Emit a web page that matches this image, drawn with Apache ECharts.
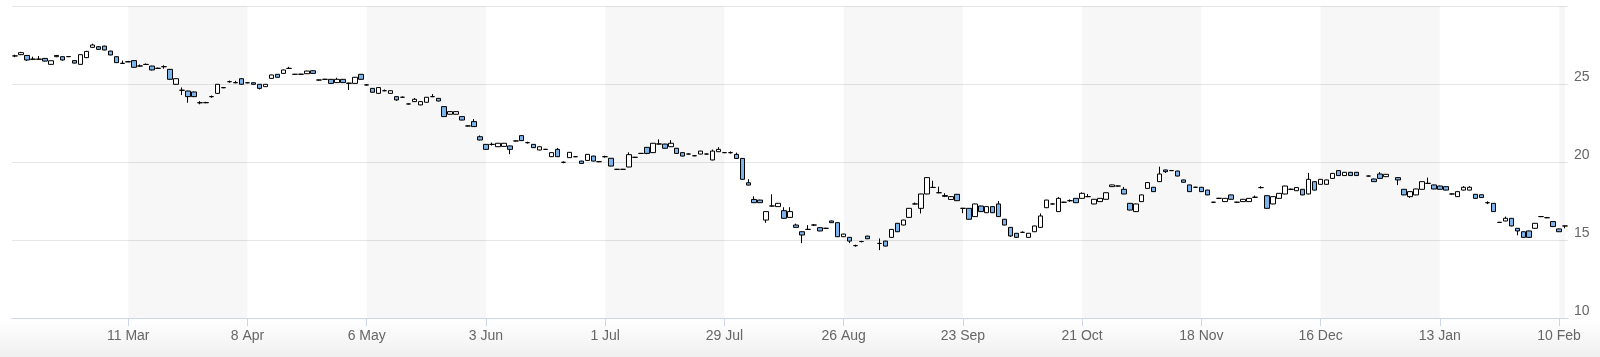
<!DOCTYPE html>
<html>
<head>
<meta charset="utf-8">
<script src="https://cdn.jsdelivr.net/npm/echarts@6/dist/echarts.min.js"></script>
<style>
html,body{margin:0;padding:0;}
#chart{width:1600px;height:357px;background:linear-gradient(to bottom,#ffffff 0px,#ffffff 318px,#f0f0f0 357px);}
</style>
</head>
<body>
<div id="chart"></div>
<script>
// Trading-day ticks and labels
const tickDates = ['2013-03-11','2013-04-08','2013-05-06','2013-06-03','2013-07-01','2013-07-29','2013-08-26','2013-09-23','2013-10-21','2013-11-18','2013-12-16','2014-01-13','2014-02-10'];
const tickLabels = ['11 Mar','8 Apr','6 May','3 Jun','1 Jul','29 Jul','26 Aug','23 Sep','21 Oct','18 Nov','16 Dec','13 Jan','10 Feb'];
const firstDay = '2013-02-12';
const lastDay = '2014-02-11';

// OHLC values (null = no trading)
const opens = [26.80,26.88,26.83,26.60,26.58,26.64,26.26,26.75,26.75,26.75,26.50,26.26,26.69,27.35,27.39,27.43,27.11,26.75,26.33,26.42,
26.50,26.15,26.26,26.15,26.00,26.11,25.94,24.98,24.60,24.55,24.49,23.80,23.80,24.19,24.40,24.76,25.15,25.08,25.34,25.08,
25.08,24.98,24.83,25.36,25.62,25.68,26.00,25.62,25.62,25.66,25.85,25.25,25.30,25.30,25.09,25.30,25.04,25.04,25.62,24.94,
24.72,24.40,24.57,24.40,24.19,24.15,23.72,23.87,23.66,23.83,24.19,24.08,23.55,23.06,23.06,22.91,22.31,22.59,21.62,21.13,
21.13,20.98,21.00,21.03,21.35,21.69,21.24,21.13,20.77,20.81,20.34,20.81,19.98,20.28,20.34,20.06,20.10,20.38,20.02,20.34,
20.24,19.53,19.53,19.68,20.30,20.55,20.94,20.60,21.15,21.15,20.98,20.88,20.60,20.51,20.40,20.51,20.51,20.13,20.66,20.60,
20.60,20.49,20.23,18.67,17.60,17.56,16.28,17.18,17.14,16.88,16.45,15.96,15.53,15.68,15.96,15.79,15.75,16.22,16.11,15.21,
15.17,14.64,14.90,15.25,null,14.78,14.93,15.17,16.07,15.96,16.45,17.31,17.03,17.95,18.37,18.03,17.85,17.60,17.93,17.03,
17.03,16.50,17.18,16.75,17.14,17.31,16.33,15.81,15.43,15.49,15.17,15.53,15.81,17.07,17.31,16.82,17.42,17.52,17.67,17.67,
17.78,17.31,17.46,17.61,18.42,18.46,18.25,17.35,16.82,17.46,18.31,18.38,18.74,19.49,19.45,19.42,18.85,18.53,18.38,18.38,
18.20,17.42,17.67,17.46,17.89,17.42,17.46,17.46,17.74,18.36,17.84,17.31,17.67,17.95,18.25,18.16,18.25,17.95,18.74,18.57,
18.57,18.95,19.45,19.13,19.34,19.34,null,19.10,18.91,19.23,19.06,null,19.00,18.25,17.78,17.89,18.25,18.63,18.53,18.46,
18.42,17.95,17.78,18.20,18.20,17.93,17.90,17.39,17.35,16.13,16.22,16.39,15.75,15.53,15.58,15.75,16.50,16.43,16.18,15.71,
15.90];
const closes = [26.80,27.01,26.54,26.58,26.60,26.47,26.49,26.83,26.54,26.76,26.34,26.88,27.09,27.50,27.22,27.18,26.86,26.37,26.32,26.43,
26.07,26.16,26.25,25.90,26.01,26.11,25.30,25.34,24.60,24.19,24.19,23.80,23.81,24.19,24.98,24.77,25.15,25.09,24.98,25.08,
24.98,24.72,24.98,25.58,25.43,25.90,26.00,25.62,25.63,25.83,25.68,25.26,25.30,25.04,25.30,25.09,25.06,25.43,25.30,24.94,
24.47,24.77,24.57,24.57,23.98,24.15,23.72,24.02,23.87,24.15,24.19,23.91,22.91,23.23,23.23,22.69,22.31,22.27,21.41,20.81,
21.13,21.20,21.20,20.81,21.35,21.37,21.24,20.92,20.98,20.81,20.60,20.34,19.98,20.62,20.34,19.91,20.49,20.06,20.02,20.34,
19.74,19.53,19.53,20.47,20.30,20.55,20.55,21.20,21.16,20.88,21.20,20.55,20.38,20.51,20.40,20.70,20.51,20.70,20.81,20.60,
20.60,20.23,18.89,18.52,17.39,17.39,16.82,17.18,17.35,16.39,16.82,15.81,15.32,15.68,15.96,15.58,15.75,16.11,15.21,15.38,
14.93,14.64,14.90,15.08,null,14.78,14.61,15.68,15.53,16.28,17.03,17.31,17.95,19.00,18.37,18.03,17.80,17.78,17.52,17.03,
16.33,17.31,16.82,17.14,16.75,16.50,15.96,15.26,15.17,15.49,15.43,15.90,16.54,17.56,17.31,17.67,17.42,17.52,17.39,17.99,
17.78,17.61,17.67,18.03,18.53,18.46,17.95,16.92,17.31,17.89,18.68,18.10,19.23,19.38,19.45,19.10,18.70,18.10,18.38,18.10,
17.89,17.42,17.67,17.67,17.61,17.42,17.61,17.67,17.74,18.36,17.03,17.78,17.99,18.46,18.25,18.36,17.89,18.89,18.20,18.89,
18.85,19.27,19.13,19.34,19.13,19.13,null,19.10,18.74,18.95,19.21,null,18.85,17.89,18.10,18.27,18.74,18.63,18.27,18.25,
18.20,17.95,18.10,18.38,18.38,17.67,17.72,17.39,16.82,16.13,16.39,15.90,15.58,15.17,15.17,16.07,16.50,16.43,15.86,15.53,
15.90];
const lows = [26.72,26.85,26.48,26.55,26.56,26.44,26.24,26.72,26.50,26.73,26.32,26.24,26.66,27.33,27.20,27.16,26.84,26.35,26.28,26.40,
26.05,26.12,26.22,25.87,25.97,25.98,25.28,24.96,24.29,23.80,24.16,23.70,23.77,24.12,24.38,24.73,25.08,25.05,24.96,25.05,
24.95,24.65,24.81,25.34,25.41,25.66,25.97,25.59,25.59,25.64,25.66,25.22,25.27,25.00,25.07,25.07,24.62,25.02,25.28,24.91,
24.45,24.38,24.54,24.38,23.92,24.10,23.69,23.85,23.64,23.81,24.16,23.89,22.89,23.04,23.04,22.67,22.28,22.25,21.39,20.79,
21.05,20.96,20.98,20.50,21.32,21.35,21.18,20.90,20.75,20.78,20.32,20.32,19.92,20.26,20.31,19.89,20.08,20.04,19.99,20.28,
19.72,19.50,19.50,19.66,20.27,20.52,20.50,20.58,21.12,20.86,20.96,20.53,20.36,20.48,20.37,20.49,20.48,20.11,20.64,20.57,
20.54,20.21,18.87,18.50,17.37,17.37,16.10,17.14,17.12,16.37,16.43,15.79,14.80,15.65,15.90,15.56,15.72,16.09,15.19,15.19,
14.80,14.57,14.85,15.06,null,14.35,14.59,15.15,15.51,15.94,16.43,17.28,16.70,17.93,18.34,18.00,17.75,17.58,17.50,16.72,
16.31,16.48,16.80,16.73,16.73,16.48,15.94,15.20,15.15,15.46,15.15,15.51,15.79,17.05,17.28,16.80,17.39,17.45,17.37,17.65,
17.75,17.29,17.44,17.59,18.40,18.43,17.93,16.90,16.80,17.44,18.29,18.08,18.72,19.30,19.42,19.08,18.68,18.08,18.35,18.08,
17.87,17.39,17.64,17.44,17.59,17.39,17.44,17.44,17.71,18.30,17.01,17.29,17.65,17.93,18.20,18.14,17.87,17.93,18.18,18.55,
18.55,18.93,19.11,19.11,19.11,19.11,null,19.07,18.72,18.93,19.04,null,18.52,17.87,17.70,17.87,18.23,18.60,18.25,18.23,
18.18,17.92,17.76,18.18,18.18,17.65,17.70,17.30,16.80,16.10,16.20,15.88,15.30,15.15,15.15,15.73,16.47,16.40,15.84,15.51,
15.75];
const highs = [26.88,27.06,26.86,26.75,26.79,26.67,26.51,26.86,26.78,26.79,26.52,26.90,27.12,27.58,27.42,27.45,27.13,26.77,26.50,26.48,
26.52,26.25,26.32,26.17,26.05,26.20,25.96,25.36,24.78,24.57,24.51,23.90,23.86,24.26,25.00,24.80,25.22,25.20,25.36,25.11,
25.10,25.00,25.00,25.60,25.64,25.92,26.10,25.65,25.66,25.85,25.87,25.29,25.33,25.32,25.40,25.32,25.08,25.45,25.64,24.97,
24.74,24.79,24.65,24.59,24.21,24.20,23.75,24.10,23.89,24.17,24.35,24.10,23.57,23.25,23.25,22.93,22.34,22.75,21.70,21.15,
21.25,21.22,21.22,21.05,21.38,21.71,21.30,21.15,21.00,20.84,20.62,20.90,20.04,20.64,20.37,20.08,20.51,20.40,20.05,20.40,
20.26,19.56,19.56,20.62,20.33,20.58,20.96,21.22,21.45,21.17,21.40,20.90,20.62,20.54,20.43,20.72,20.54,20.80,20.95,20.63,
20.68,20.60,20.25,18.90,17.80,17.58,16.84,17.93,17.37,17.10,17.10,16.05,15.55,15.95,16.02,15.81,15.78,16.24,16.13,15.40,
15.19,14.70,14.95,15.27,null,15.10,14.95,15.70,16.09,16.30,17.05,17.40,17.97,19.02,18.80,18.42,18.00,17.82,17.95,17.06,
17.05,17.33,17.20,17.16,17.16,17.50,16.35,15.83,15.45,15.55,15.45,15.92,16.70,17.58,17.34,17.75,17.45,17.60,17.69,18.05,
17.95,17.63,17.69,18.05,18.55,18.49,18.40,17.37,17.33,17.91,18.70,18.40,19.70,19.51,19.48,19.44,18.87,18.55,18.41,18.40,
18.22,17.45,17.70,17.69,17.91,17.45,17.63,17.69,17.85,18.45,17.86,17.80,18.01,18.48,18.30,18.38,18.27,19.30,18.76,18.91,
18.87,19.29,19.47,19.36,19.36,19.36,null,19.13,18.93,19.35,19.23,null,19.02,18.27,18.12,18.29,18.76,19.00,18.55,18.48,
18.44,17.98,18.12,18.45,18.45,17.95,17.92,17.48,17.37,16.16,16.50,16.41,15.77,15.55,15.60,16.09,16.53,16.48,16.20,15.73,
15.92];
const yTicks = [10, 15, 20, 25, 30];

// build weekday categories
const categories = [];
for (let d = new Date(firstDay + 'T00:00:00Z'); d <= new Date(lastDay + 'T00:00:00Z'); d.setUTCDate(d.getUTCDate() + 1)) {
  const wd = d.getUTCDay();
  if (wd !== 0 && wd !== 6) categories.push(d.toISOString().slice(0, 10));
}
const ohlc = categories.map((c, i) => opens[i] == null ? ['-', '-', '-', '-'] : [opens[i], closes[i], lows[i], highs[i]]);
const tickIndex = tickDates.map(t => categories.indexOf(t));
const isTick = (idx) => tickIndex.indexOf(idx) >= 0;

const bands = [];
for (let k = 0; k < tickDates.length; k += 2) {
  const end = k + 1 < tickDates.length ? tickDates[k + 1] : categories[categories.length - 1];
  bands.push([{ xAxis: tickDates[k] }, { xAxis: end }]);
}

const chart = echarts.init(document.getElementById('chart'), null, { renderer: 'canvas' });
chart.setOption({
  backgroundColor: 'transparent',
  animation: false,
  grid: { left: 12, right: 32, top: 6, bottom: 39, containLabel: false },
  xAxis: {
    type: 'category',
    data: categories,
    boundaryGap: true,
    axisLine: { lineStyle: { color: '#ccd6eb', width: 1 } },
    axisTick: { show: true, interval: (i) => isTick(i), alignWithLabel: true, length: 8, lineStyle: { color: '#ccd6eb' } },
    axisLabel: {
      interval: (i) => isTick(i),
      formatter: (v) => tickLabels[tickDates.indexOf(v)] || '',
      color: '#666666', fontSize: 14, fontFamily: 'Liberation Sans, Arial, sans-serif', margin: 11
    },
    splitLine: { show: false }
  },
  yAxis: {
    type: 'value',
    position: 'right',
    min: yTicks[0], max: yTicks[yTicks.length - 1], interval: 5,
    axisLine: { show: false },
    axisTick: { show: false },
    splitLine: { lineStyle: { color: '#e6e6e6', width: 1 } },
    axisLabel: {
      color: '#666666', fontSize: 14, fontFamily: 'Liberation Sans, Arial, sans-serif', lineHeight: 14,
      margin: 6, verticalAlign: 'bottom', showMaxLabel: false
    }
  },
  series: [{
    type: 'candlestick',
    data: ohlc,
    barWidth: '84%',
    itemStyle: {
      color: '#ffffff', color0: '#7cb5ec',
      borderColor: '#000000', borderColor0: '#000000', borderWidth: 1
    },
    markArea: {
      silent: true,
      itemStyle: { color: 'rgba(0,0,0,0.032)' },
      data: bands
    }
  }]
});
</script>
</body>
</html>
